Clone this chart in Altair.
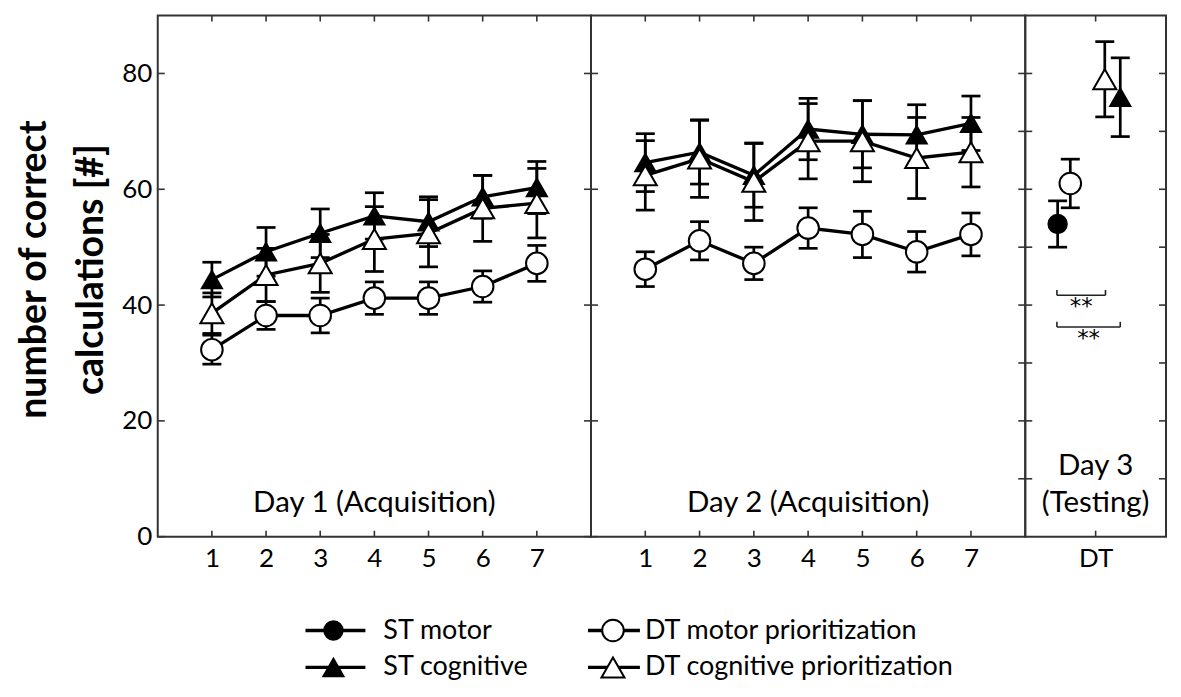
import altair as alt
import pandas as pd

FONT = "Lato"

sessions = [1, 2, 3, 4, 5, 6, 7]
conds = ["ST motor", "ST cognitive", "DT motor prioritization", "DT cognitive prioritization"]
shapes = ["circle", "triangle-up", "circle", "triangle-up"]
fills = ["black", "black", "white", "white"]
sizes = [340, 530, 300, 470]

# Day 1 (Acquisition)
d1_dt_motor = [32.3, 38.2, 38.2, 41.2, 41.2, 43.2, 47.2]
d1_dt_motor_se = [2.5, 2.4, 3.0, 2.8, 2.8, 2.7, 3.1]
d1_dt_cog = [38.6, 45.2, 47.2, 51.4, 52.4, 56.7, 57.6]
d1_dt_cog_se = [3.5, 4.6, 5.0, 5.6, 5.8, 5.7, 6.0]
d1_st_cog = [44.4, 49.2, 52.4, 55.4, 54.4, 58.7, 60.3]
d1_st_cog_se = [3.0, 4.2, 4.2, 4.0, 4.3, 3.7, 4.5]

# Day 2 (Acquisition)
d2_dt_motor = [46.2, 51.1, 47.2, 53.3, 52.2, 49.2, 52.2]
d2_dt_motor_se = [3.0, 3.3, 2.8, 3.5, 4.0, 3.5, 3.7]
d2_dt_cog = [62.4, 65.3, 61.3, 68.3, 68.3, 65.4, 66.4]
d2_dt_cog_se = [6.0, 6.7, 6.7, 6.5, 7.0, 7.0, 6.0]
d2_st_cog = [64.6, 66.4, 62.4, 70.4, 69.5, 69.4, 71.4]
d2_st_cog_se = [5.0, 5.5, 5.5, 5.3, 5.8, 5.2, 4.7]

# Day 3 (Testing), order = conds
d3_x = [-0.54, 0.35, -0.36, 0.13]
d3_mean = [54.0, 75.9, 61.0, 79.0]
d3_se = [4.0, 6.8, 4.2, 6.5]

# significance brackets on Day 3
sig_x1 = [-0.55, -0.55]
sig_x2 = [0.14, 0.35]
sig_y = [41.7, 36.2]
sig_label = ["**", "**"]

y_ticks_main = [0, 20, 40, 60, 80]
y_ticks_d3 = [10, 20, 30, 40, 50, 60, 70, 80]

panel_labels = ["Day 1 (Acquisition)", "Day 2 (Acquisition)"]
panel_label_y = 4.3
d3_label_lines = ["Day 3", "(Testing)"]
d3_label_y = [10.7, 4.3]

H = 522
W1, W2, W3 = 434, 435, 141
YSCALE = alt.Scale(domain=[0, 90], nice=False, zero=False)
FRAME = "#333"


def rows(day, series):
    out = []
    for cond, xs, means, ses in series:
        for x, m, s in zip(xs, means, ses):
            out.append({"day": day, "cond": cond, "x": x, "mean": m,
                        "lo": m - s, "hi": m + s})
    return pd.DataFrame(out)


df1 = rows("Day 1", [
    ("ST cognitive", sessions, d1_st_cog, d1_st_cog_se),
    ("DT cognitive prioritization", sessions, d1_dt_cog, d1_dt_cog_se),
    ("DT motor prioritization", sessions, d1_dt_motor, d1_dt_motor_se),
])
df2 = rows("Day 2", [
    ("ST cognitive", sessions, d2_st_cog, d2_st_cog_se),
    ("DT cognitive prioritization", sessions, d2_dt_cog, d2_dt_cog_se),
    ("DT motor prioritization", sessions, d2_dt_motor, d2_dt_motor_se),
])
df3 = rows("Day 3", [(c, [x], [m], [s]) for c, x, m, s in zip(conds, d3_x, d3_mean, d3_se)])

shape_enc = alt.Shape("cond:N", scale=alt.Scale(domain=conds, range=shapes), legend=None)
fill_enc = alt.Fill("cond:N", scale=alt.Scale(domain=conds, range=fills), legend=None)
size_enc = alt.Size("cond:N", scale=alt.Scale(domain=conds, range=sizes), legend=None)


def panel(df, width, xdomain, xtick_vals, yl_ticks, yr_ticks, yaxis, xlabel_expr=None,
          draw_lines=True):
    xaxis_kw = dict(values=xtick_vals, ticks=False, tickSize=0, domain=False, grid=False,
                    labelFontSize=26, labelPadding=9, labelColor="black", title=None,
                    labelFont=FONT)
    if xlabel_expr:
        xaxis_kw["labelExpr"] = xlabel_expr
    xscale = alt.Scale(domain=xdomain, nice=False, zero=False)

    def X(field):
        return alt.X(field, scale=xscale, axis=alt.Axis(**xaxis_kw))

    def Y(field):
        return alt.Y(field, scale=YSCALE, axis=yaxis)

    base = alt.Chart(df)
    layers = []
    if draw_lines:
        layers.append(base.mark_line(color="black", strokeWidth=3.3).encode(
            x=X("x:Q"), y=Y("mean:Q"), detail="cond:N"))
    layers.append(base.mark_rule(color="black", strokeWidth=2.7).encode(
        x=X("x:Q"), y=Y("lo:Q"), y2="hi:Q"))
    layers.append(base.mark_tick(orient="horizontal", color="black", size=19,
                                 thickness=2.7, opacity=1).encode(x=X("x:Q"), y=Y("lo:Q")))
    layers.append(base.mark_tick(orient="horizontal", color="black", size=19,
                                 thickness=2.7, opacity=1).encode(x=X("x:Q"), y=Y("hi:Q")))
    layers.append(base.mark_point(filled=True, stroke="black", strokeWidth=2,
                                  opacity=1).encode(
        x=X("x:Q"), y=Y("mean:Q"), shape=shape_enc, fill=fill_enc, size=size_enc))

    # inward ticks on the frame
    layers.append(alt.Chart(pd.DataFrame({"v": yl_ticks})).mark_rule(
        color=FRAME, strokeWidth=1.6).encode(y=Y("v:Q"), x=alt.value(0), x2=alt.value(7)))
    layers.append(alt.Chart(pd.DataFrame({"v": yr_ticks})).mark_rule(
        color=FRAME, strokeWidth=1.6).encode(y=Y("v:Q"), x=alt.value(width - 7),
                                             x2=alt.value(width)))
    xt = alt.Chart(pd.DataFrame({"s": xtick_vals}))
    layers.append(xt.mark_rule(color=FRAME, strokeWidth=1.6).encode(
        x=X("s:Q"), y=alt.value(H), y2=alt.value(H - 6)))
    layers.append(xt.mark_rule(color=FRAME, strokeWidth=1.6).encode(
        x=X("s:Q"), y=alt.value(0), y2=alt.value(6)))
    return layers, X, Y


ax_main = alt.Axis(values=y_ticks_main, ticks=False, tickSize=0, domain=False, grid=False,
                   labelFontSize=26, labelPadding=6, labelColor="black", labelFont=FONT,
                   title=["number of correct", "calculations [#]"], titleFont=FONT,
                   titleFontSize=37.5, titleFontWeight="bold", titleColor="black",
                   titlePadding=11, titleLineHeight=57, titleY=254)

LABEL_SIZE = 29.5

# Panel 1
l1, X1, Y1 = panel(df1, W1, [0, 8], sessions, y_ticks_main, y_ticks_main, ax_main)
l1.append(alt.Chart(pd.DataFrame({"t": [panel_labels[0]], "x": [4], "y": [panel_label_y]})).mark_text(
    font=FONT, fontSize=LABEL_SIZE, baseline="alphabetic", color="black").encode(
    x=X1("x:Q"), y=Y1("y:Q"), text="t:N"))
p1 = alt.layer(*l1).properties(width=W1, height=H)

# Panel 2
l2, X2, Y2 = panel(df2, W2, [0, 8], sessions, y_ticks_main, y_ticks_d3, None)
l2.append(alt.Chart(pd.DataFrame({"t": [panel_labels[1]], "x": [4], "y": [panel_label_y]})).mark_text(
    font=FONT, fontSize=LABEL_SIZE, baseline="alphabetic", color="black").encode(
    x=X2("x:Q"), y=Y2("y:Q"), text="t:N"))
p2 = alt.layer(*l2).properties(width=W2, height=H)

# Panel 3
l3, X3, Y3 = panel(df3, W3, [-1, 1], [0], y_ticks_d3, y_ticks_d3, None, xlabel_expr="'DT'",
                   draw_lines=False)
sig = pd.DataFrame({"x1": sig_x1, "x2": sig_x2, "y": sig_y, "t": sig_label})
sig["ytop"] = sig["y"] + 0.9
sig["xm"] = (sig["x1"] + sig["x2"]) / 2
sc = alt.Chart(sig)
l3.append(sc.mark_rule(color="#222", strokeWidth=1.6).encode(x=X3("x1:Q"), x2="x2:Q", y=Y3("y:Q")))
l3.append(sc.mark_rule(color="#222", strokeWidth=1.6).encode(x=X3("x1:Q"), y=Y3("y:Q"), y2="ytop:Q"))
l3.append(sc.mark_rule(color="#222", strokeWidth=1.6).encode(x=X3("x2:Q"), y=Y3("y:Q"), y2="ytop:Q"))
l3.append(sc.mark_text(font="DejaVu Sans", fontSize=23, baseline="top", dy=1, color="black").encode(
    x=X3("xm:Q"), y=Y3("y:Q"), text="t:N"))
l3.append(alt.Chart(pd.DataFrame({"t": d3_label_lines, "x": [0, 0], "y": d3_label_y})).mark_text(
    font=FONT, fontSize=LABEL_SIZE, baseline="alphabetic", color="black").encode(
    x=X3("x:Q"), y=Y3("y:Q"), text="t:N"))
p3 = alt.layer(*l3).properties(width=W3, height=H)

top = alt.hconcat(p1, p2, p3, spacing=0, bounds="flush").resolve_scale(x="independent")

# Custom legend
leg = pd.DataFrame({
    "cond": conds,
    "col": [0, 0, 1, 1],
    "row": [0, 1, 0, 1],
})
LX = alt.Scale(domain=[0, 1], range=[148, 431])
LY = alt.Scale(domain=[0, 1], range=[0, 37])
leg_layers = []
for c, (line_len, mk_off, txt_off) in enumerate([(60, 28, 78), (52, 25, 57)]):
    sub = alt.Chart(leg[leg["col"] == c])
    lx = alt.X("col:Q", scale=LX, axis=None)
    ly = alt.Y("row:Q", scale=LY, axis=None)
    leg_layers.append(sub.mark_rule(color="black", strokeWidth=3.3, x2Offset=line_len).encode(
        x=lx, x2="col:Q", y=ly))
    leg_layers.append(sub.mark_point(filled=True, stroke="black", strokeWidth=2, opacity=1,
                                     xOffset=mk_off).encode(
        x=lx, y=ly, shape=shape_enc, fill=fill_enc, size=size_enc))
    leg_layers.append(sub.mark_text(font=FONT, fontSize=27, align="left", baseline="middle",
                                    xOffset=txt_off, color="black").encode(
        x=lx, y=ly, text="cond:N"))
legend = alt.layer(*leg_layers).properties(
    width=W1 + W2 + W3, height=37, view=alt.ViewBackground(strokeOpacity=0))

chart = alt.vconcat(top, legend, spacing=43).properties(
    padding={"left": 6, "top": 5, "right": 5, "bottom": 5}
).configure(font=FONT).configure_view(stroke=FRAME, strokeWidth=2)

chart.save("out.html", embed_options={"renderer": "svg", "actions": False})
